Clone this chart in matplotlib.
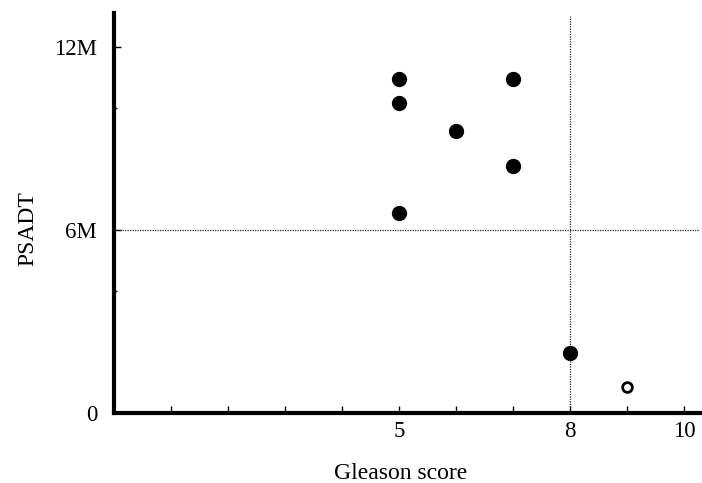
import matplotlib.pyplot as plt

# data
gleason_filled = [5, 5, 6, 7, 7, 5, 8]
psadt_filled = [10.95, 10.15, 9.25, 10.95, 8.1, 6.55, 1.98]
gleason_open = [9]
psadt_open = [0.85]

cut_x = 8
cut_y = 6

x_ticks = [5, 8, 10]
y_ticks = [0, 6, 12]
y_ticklabels = ['0', '6M', '12M']

plt.rcParams['font.family'] = ['Liberation Serif', 'DejaVu Serif']

fig = plt.figure(figsize=(7.02, 4.83), dpi=100)
ax = fig.add_axes([0.162, 0.145, 0.835, 0.828])

ax.plot(gleason_filled, psadt_filled, 'o', color='black', markersize=10, zorder=3)
ax.plot(gleason_open, psadt_open, 'o', markerfacecolor='white', markeredgecolor='black',
        markeredgewidth=2, markersize=7, zorder=3)

# cut-off lines
ax.axhline(cut_y, xmin=0.005, color='#222222', linewidth=0.9, linestyle=(0, (1, 1)))
ax.plot([cut_x, cut_x], [0.2, 13.0], color='#222222', linewidth=0.9, linestyle=(0, (1, 1)))

ax.set_xlim(0, 10.28)
ax.set_ylim(0, 13.1)

ax.set_xticks(x_ticks)
ax.set_xticks(range(1, 11), minor=True)
ax.set_yticks(y_ticks)
ax.set_yticklabels(y_ticklabels)
ax.set_yticks([4, 10], minor=True)

ax.tick_params(axis='both', which='major', direction='in', length=5, width=1,
               labelsize=16.5, pad=6)
ax.tick_params(axis='x', which='minor', direction='in', length=5, width=1)
ax.tick_params(axis='y', which='minor', direction='in', length=2, width=1)
ax.tick_params(axis='y', which='major', pad=12)

for side in ['top', 'right']:
    ax.spines[side].set_visible(False)
for side in ['left', 'bottom']:
    ax.spines[side].set_linewidth(3)

ax.set_xlabel('Gleason score', fontsize=17)
ax.set_ylabel('PSADT', fontsize=17)
ax.xaxis.set_label_coords(0.49, -0.125)
ax.yaxis.set_label_coords(-0.128, 0.46)

fig.savefig('out.png', dpi=100)
